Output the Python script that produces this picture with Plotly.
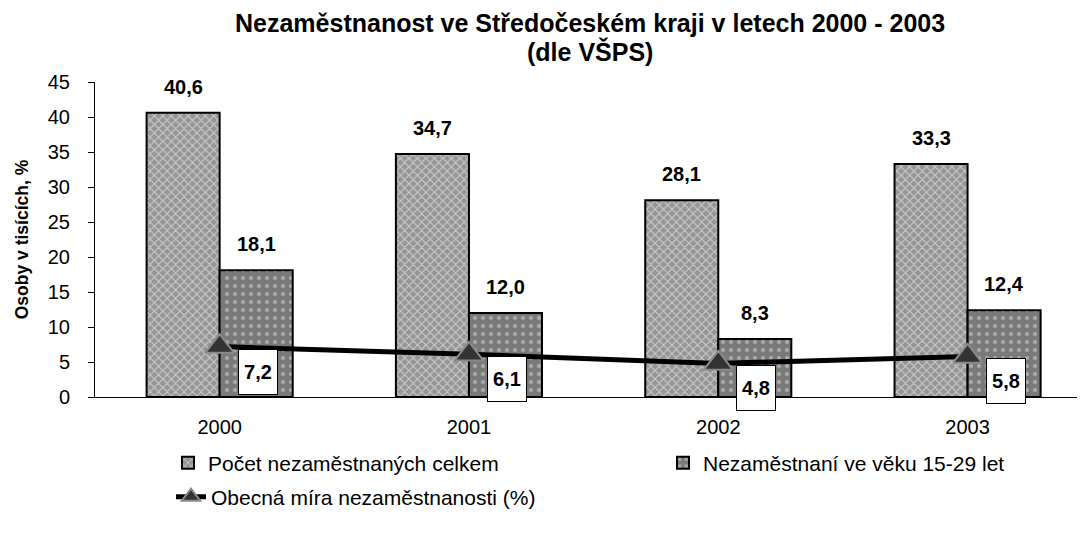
import plotly.graph_objects as go

years = ["2000", "2001", "2002", "2003"]
total = [40.6, 34.7, 28.1, 33.3]
young = [18.1, 12.0, 8.3, 12.4]
rate = [7.2, 6.1, 4.8, 5.8]

name_total = "Počet nezaměstnaných celkem"
name_young = "Nezaměstnaní ve věku 15-29 let"
name_rate = "Obecná míra nezaměstnanosti (%)"
title_line1 = "<b>Nezaměstnanost ve Středočeském kraji v letech 2000 - 2003</b>"
title_line2 = "<b>(dle VŠPS)</b>"
ytitle = "<b>Osoby v tisících, %</b>"

xs = list(range(len(years)))
W = 0.293
FONT = "Liberation Sans, Arial, sans-serif"
FIG_W, FIG_H = 1077, 531

def fmt(v):
    return f"{v:.1f}".replace(".", ",")

fig = go.Figure()
fig.add_trace(go.Bar(
    x=xs, y=total, name=name_total, width=W, offset=-W, legend="legend",
    marker=dict(color="#9a9a9a", line=dict(color="black", width=2),
                pattern=dict(shape="x", fgcolor="white", bgcolor="#959595", size=6, solidity=0.35)),
))
fig.add_trace(go.Bar(
    x=xs, y=young, name=name_young, width=W, offset=0, legend="legend2",
    marker=dict(color="#808080", line=dict(color="black", width=2),
                pattern=dict(shape=".", fgcolor="#e0e0e0", bgcolor="#7a7a7a", size=8, solidity=0.2)),
))
fig.add_trace(go.Scatter(
    x=xs, y=rate, name=name_rate, mode="lines+markers", legend="legend3",
    line=dict(color="black", width=5),
    marker=dict(symbol="triangle-up", size=25, color="#333333", line=dict(color="#8a8a8a", width=2)),
))

ann = []
for i in xs:
    ann.append(dict(x=i - W / 2, y=total[i], text=f"<b>{fmt(total[i])}</b>", showarrow=False,
                    yanchor="bottom", yshift=13, font=dict(size=20, color="black", family=FONT)))
    ann.append(dict(x=i + W / 2, y=young[i], text=f"<b>{fmt(young[i])}</b>", showarrow=False,
                    yanchor="bottom", yshift=13, font=dict(size=20, color="black", family=FONT)))
    ann.append(dict(x=i, y=rate[i], text=f"<b>{fmt(rate[i])}</b>", showarrow=False,
                    xshift=38, yshift=-25, bgcolor="white", bordercolor="black", borderwidth=1,
                    width=38, height=44, borderpad=0,
                    font=dict(size=20, color="black", family=FONT)))
ann.append(dict(xref="paper", yref="paper", x=0.5, y=1 + 59 / 315, xanchor="center", yanchor="middle",
                text=title_line1, showarrow=False, borderpad=0,
                font=dict(size=25, family=FONT, color="black")))
ann.append(dict(xref="paper", yref="paper", x=0.5, y=1 + 30 / 315, xanchor="center", yanchor="middle",
                text=title_line2, showarrow=False, borderpad=0,
                font=dict(size=25, family=FONT, color="black")))

def leg(x_px, y_px):
    return dict(orientation="h", xref="container", yref="container",
                x=x_px / FIG_W, xanchor="left", y=1 - y_px / FIG_H, yanchor="middle",
                font=dict(size=21), itemwidth=30, bgcolor="rgba(0,0,0,0)")

fig.update_layout(
    width=FIG_W, height=FIG_H,
    margin=dict(l=87, r=0, t=74, b=142),
    plot_bgcolor="white", paper_bgcolor="white",
    font=dict(family=FONT, color="black", size=20),
    barmode="overlay",
    xaxis=dict(range=[-0.5, 3.471], tickvals=xs, ticktext=years, showgrid=False,
               showline=True, linecolor="black", linewidth=1, ticks="", zeroline=False,
               tickfont=dict(size=20), ticklabelstandoff=12),
    yaxis=dict(range=[0, 45], dtick=5, showgrid=False, showline=True, linecolor="black",
               linewidth=1, ticks="outside", ticklen=6, tickcolor="black", zeroline=False,
               tickfont=dict(size=20), ticklabelstandoff=14,
               title=dict(text=ytitle, font=dict(size=17.5), standoff=14)),
    legend=leg(160, 455),
    legend2=leg(655, 455),
    legend3=leg(163, 489),
    annotations=ann,
    showlegend=True,
)

fig.write_html("out.html")
